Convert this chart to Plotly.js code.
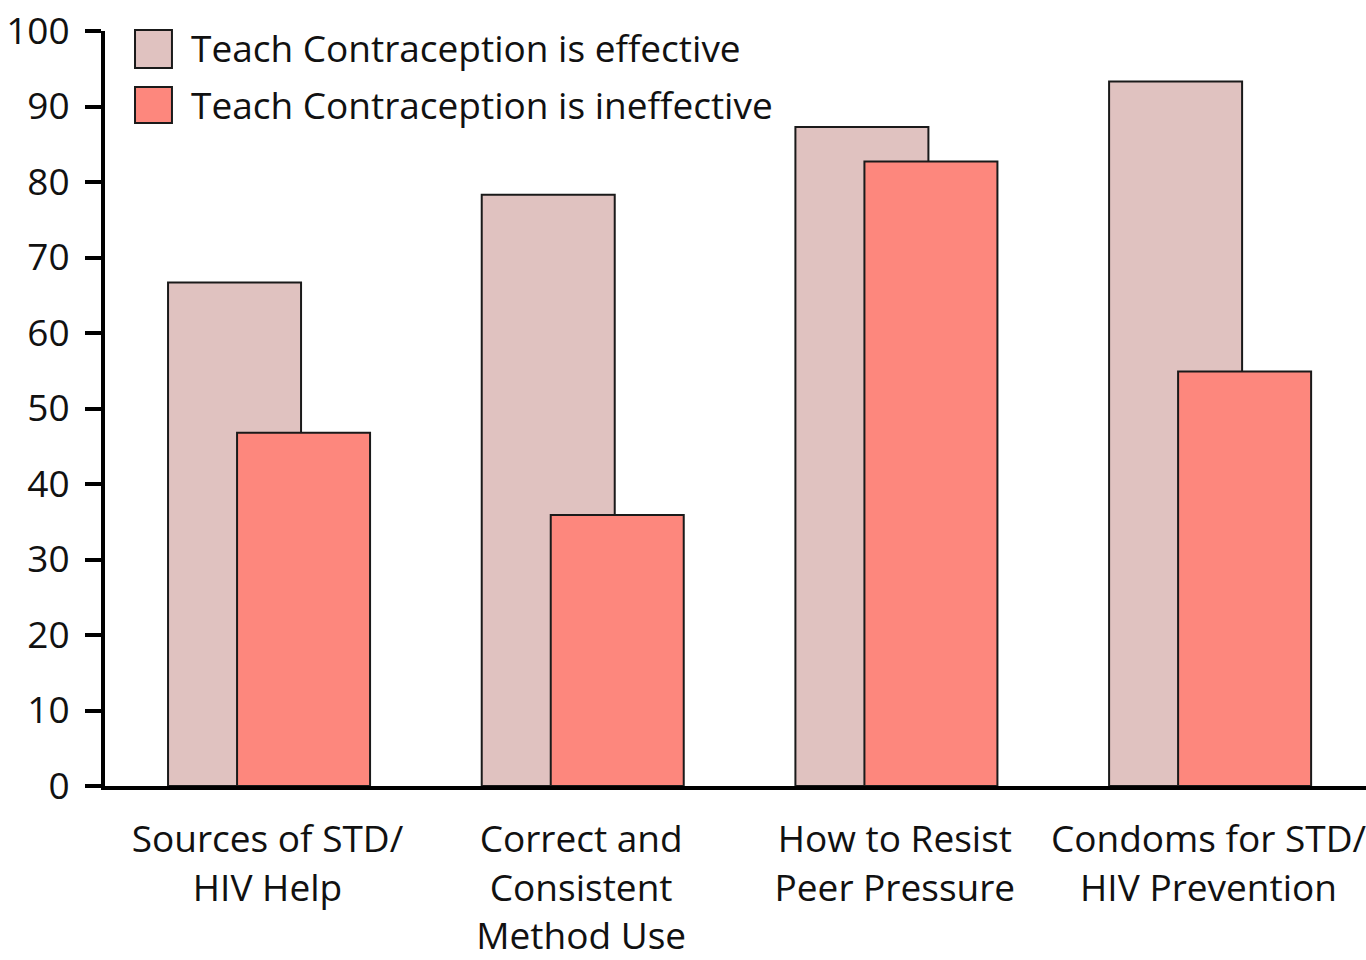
<!DOCTYPE html>
<html>
<head>
<meta charset="utf-8">
<script src="https://cdn.plot.ly/plotly-3.0.1.min.js"></script>
<style>
  html, body { margin: 0; padding: 0; background: #ffffff; }
  #chart { width: 1366px; height: 960px; }
</style>
</head>
<body>
<div id="chart"></div>
<script>
const categories = [
  "Sources of STD/<br>HIV Help",
  "Correct and<br>Consistent<br>Method Use",
  "How to Resist<br>Peer Pressure",
  "Condoms for STD/<br>HIV Prevention"
];
const seriesNames = ["Teach Contraception is effective", "Teach Contraception is ineffective"];
const effectiveValues = [66.7, 78.3, 87.3, 93.3];
const ineffectiveValues = [46.8, 35.9, 82.7, 54.9];
const yTickValues = [0, 10, 20, 30, 40, 50, 60, 70, 80, 90, 100];

const colors = ["#e0c2c0", "#fd877d"];
const FONT = "Open Sans, sans-serif";

const traces = [
  {
    type: "bar", name: seriesNames[0], x: categories, y: effectiveValues,
    width: 0.424, offset: -0.317,
    marker: { color: colors[0], line: { color: "#1a1a1a", width: 2 } },
    showlegend: false, hoverinfo: "y"
  },
  {
    type: "bar", name: seriesNames[1], x: categories, y: ineffectiveValues,
    width: 0.424, offset: -0.097,
    marker: { color: colors[1], line: { color: "#1a1a1a", width: 2 } },
    showlegend: false, hoverinfo: "y"
  }
];

// plot area: x 105..1366, y 31..786
const legendShapes = [
  { type: "rect", xref: "paper", yref: "paper", x0: 0.0238, x1: 0.0531, y0: 0.9510, y1: 1.0013,
    fillcolor: colors[0], line: { color: "#1a1a1a", width: 2 } },
  { type: "rect", xref: "paper", yref: "paper", x0: 0.0238, x1: 0.0531, y0: 0.8781, y1: 0.9258,
    fillcolor: colors[1], line: { color: "#1a1a1a", width: 2 } }
];
const legendText = [
  { xref: "paper", yref: "paper", x: 0.0667, y: 0.9781, xanchor: "left", yanchor: "middle",
    text: seriesNames[0], showarrow: false, font: { family: FONT, size: 37, color: "#111" } },
  { xref: "paper", yref: "paper", x: 0.0667, y: 0.9026, xanchor: "left", yanchor: "middle",
    text: seriesNames[1], showarrow: false, font: { family: FONT, size: 37, color: "#111" } }
];

const layout = {
  width: 1366, height: 960,
  margin: { l: 105, r: 0, t: 31, b: 174, pad: 0 },
  paper_bgcolor: "#ffffff", plot_bgcolor: "#ffffff",
  barmode: "overlay",
  showlegend: false,
  font: { family: FONT, size: 37, color: "#111" },
  xaxis: {
    type: "category",
    range: [-0.518, 3.502],
    showgrid: false, zeroline: false,
    showline: true, linecolor: "#000", linewidth: 4,
    ticks: "", ticklabelstandoff: 18,
    tickfont: { family: FONT, size: 37, color: "#111" },
    fixedrange: true
  },
  yaxis: {
    range: [0, 100],
    tickvals: yTickValues,
    showgrid: false, zeroline: false,
    showline: true, linecolor: "#000", linewidth: 4,
    ticks: "outside", ticklen: 16, tickwidth: 4, tickcolor: "#000",
    ticklabelstandoff: 8,
    tickfont: { family: FONT, size: 37, color: "#111" },
    fixedrange: true
  },
  shapes: legendShapes,
  annotations: legendText
};

Plotly.newPlot("chart", traces, layout, { displayModeBar: false, staticPlot: true });
</script>
</body>
</html>
